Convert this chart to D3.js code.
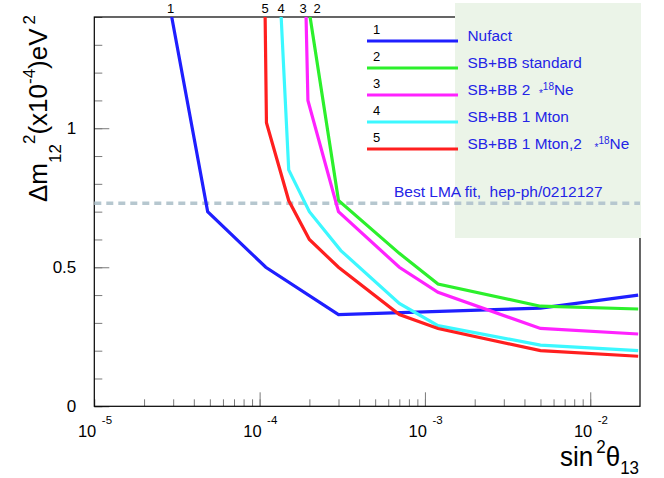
<!DOCTYPE html>
<html lang="en">

<head>
  <title></title>
  <meta charset="UTF-8">
  <script src="https://cdn.jsdelivr.net/npm/d3@7"></script>
  <style>
    body { margin: 0; background: #fff; }
    svg text { font-family: "Liberation Sans", Arial, Helvetica, sans-serif; white-space: pre; }
  </style>
</head>

<body>
  <svg id="chart" width="664" height="478"></svg>
  <script>
    // curves: x = sin^2(theta13), y = dm12^2 in 1e-4 eV^2
    var nufactX = [2.94e-5, 4.85e-5, 1.09e-4, 3e-4, 5e-3, 1.95e-2];
    var nufactY = [1.4, 0.7, 0.5, 0.33, 0.353, 0.40];
    var standardX = [2.02e-4, 3e-4, 7e-4, 1.2e-3, 5e-3, 1.95e-2];
    var standardY = [1.4, 0.74, 0.55, 0.44, 0.36, 0.35];
    var neX = [1.91e-4, 1.96e-4, 3e-4, 7e-4, 1.2e-3, 5e-3, 1.95e-2];
    var neY = [1.4, 1.1, 0.7, 0.5, 0.41, 0.28, 0.26];
    var mtonX = [1.35e-4, 1.5e-4, 2e-4, 3.1e-4, 7e-4, 1.2e-3, 5e-3, 1.95e-2];
    var mtonY = [1.4, 0.85, 0.7, 0.56, 0.37, 0.29, 0.22, 0.2];
    var mtonNeX = [1.08e-4, 1.1e-4, 1.5e-4, 2e-4, 3e-4, 7e-4, 1.2e-3, 5e-3, 1.95e-2];
    var mtonNeY = [1.4, 1.02, 0.74, 0.6, 0.5, 0.33, 0.28, 0.2, 0.18];

    var seriesIds = ["1", "2", "3", "4", "5"];
    var seriesNames = ["Nufact", "SB+BB standard", "SB+BB 2  ", "SB+BB 1 Mton", "SB+BB 1 Mton,2   "];
    var seriesIsotope = [false, false, true, false, true];
    var lmaFit = 0.73;
    var lmaText = "Best LMA fit,  hep-ph/0212127";
    var decadeTicks = [1e-5, 1e-4, 1e-3, 1e-2];
    var decadeExp = ["-5", "-4", "-3", "-2"];
    var yMajor = [0, 0.5, 1];

    var series = [
      { x: nufactX, y: nufactY, color: "#1f1fff" },
      { x: standardX, y: standardY, color: "#2cf02c" },
      { x: neX, y: neY, color: "#ff22ff" },
      { x: mtonX, y: mtonY, color: "#3cf8ff" },
      { x: mtonNeX, y: mtonNeY, color: "#ff1f1f" }
    ];
    series.forEach(function (s, i) {
      s.id = seriesIds[i];
      s.name = seriesNames[i];
      s.iso = seriesIsotope[i];
      s.points = s.x.map(function (v, j) { return [v, s.y[j]]; });
    });

    var L = 94.3, R = 640, T = 17, B = 406.3;
    var svg = d3.select("#chart");
    var x = d3.scaleLog().domain([1e-5, 2e-2]).range([L, R]);
    var y = d3.scaleLinear().domain([0, 1.4]).range([B, T]);

    svg.append("defs").append("clipPath").attr("id", "plot")
      .append("rect").attr("x", L).attr("y", T).attr("width", R - L).attr("height", B - T);

    // ticks (inside the frame, ROOT style)
    var xMinor = svg.append("g").attr("transform", "translate(0," + B + ")")
      .call(d3.axisBottom(x).tickValues(x.ticks().filter(function (v) { return v < 2e-2; }))
        .tickSize(-7).tickFormat(""));
    var xMajor = svg.append("g").attr("transform", "translate(0," + B + ")")
      .call(d3.axisBottom(x).tickValues(decadeTicks.slice(1)).tickSize(-14).tickFormat(""));
    var yMinorG = svg.append("g").attr("transform", "translate(" + L + ",0)")
      .call(d3.axisLeft(y).tickValues(d3.range(0, 15).map(function (i) { return i / 10; }))
        .tickSize(-8).tickFormat(""));
    var yMajorG = svg.append("g").attr("transform", "translate(" + L + ",0)")
      .call(d3.axisLeft(y).tickValues(yMajor).tickSize(-15).tickPadding(18)
        .tickFormat(function (d) { return d === 0.5 ? "0.5" : String(d); }));
    [xMinor, xMajor, yMinorG, yMajorG].forEach(function (g) {
      g.select(".domain").remove();
      g.selectAll(".tick line").attr("stroke", "#7a7a7a");
    });
    yMajorG.selectAll(".tick text").attr("font-size", 17).attr("fill", "#000")
      .attr("font-family", "Liberation Sans, Arial, sans-serif");

    // frame
    svg.append("rect").attr("x", L).attr("y", T).attr("width", R - L).attr("height", B - T)
      .attr("fill", "none").attr("stroke", "#000").attr("stroke-width", 1.2);

    // legend box
    svg.append("rect").attr("x", 455).attr("y", 3).attr("width", 186).attr("height", 235)
      .attr("fill", "#ebf4e8");

    // LMA best fit line
    svg.append("line").attr("x1", L).attr("x2", R).attr("y1", y(lmaFit)).attr("y2", y(lmaFit))
      .attr("stroke", "#b6c7cf").attr("stroke-width", 3.5).attr("stroke-dasharray", "7,5");
    svg.append("text").attr("x", 394).attr("y", 197).attr("font-size", 15.5)
      .attr("fill", "#2424e6").text(lmaText);

    // curves
    var line = d3.line().x(function (d) { return x(d[0]); }).y(function (d) { return y(d[1]); });
    svg.append("g").attr("clip-path", "url(#plot)")
      .selectAll("path").data(series).enter().append("path")
      .attr("d", function (s) { return line(s.points); })
      .attr("fill", "none").attr("stroke", function (s) { return s.color; })
      .attr("stroke-width", 3.2).attr("stroke-linejoin", "miter");

    // curve numbers at the top edge
    var topShift = { "1": -1, "3": -3, "2": 7 };
    svg.append("g").selectAll("text").data(series).enter().append("text")
      .attr("x", function (s) { return x(s.x[0]) + (topShift[s.id] || 0); })
      .attr("y", 13).attr("text-anchor", "middle").attr("font-size", 13)
      .text(function (s) { return s.id; });

    // legend entries
    var leg = svg.append("g").selectAll("g").data(series).enter().append("g")
      .attr("transform", function (s, i) { return "translate(0," + (41 + i * 27) + ")"; });
    leg.append("line").attr("x1", 367).attr("x2", 458).attr("y1", 0).attr("y2", 0)
      .attr("stroke", function (s) { return s.color; }).attr("stroke-width", 3.2);
    leg.append("text").attr("x", 373).attr("y", -7).attr("font-size", 13)
      .text(function (s) { return s.id; });
    var lt = leg.append("text").attr("x", 467.5).attr("y", 0).attr("font-size", 15.4)
      .attr("fill", "#2424e6");
    lt.append("tspan").text(function (s) { return s.name; });
    lt.filter(function (s) { return s.iso; }).each(function () {
      var t = d3.select(this);
      t.append("tspan").attr("font-size", 10).attr("dy", 2).text("*");
      t.append("tspan").attr("font-size", 10).attr("dy", -7).text("18");
      t.append("tspan").attr("font-size", 15.4).attr("dy", 5).text("Ne");
    });

    // x tick labels 10^n
    var xl = svg.append("g").selectAll("g").data(decadeTicks).enter().append("g");
    xl.append("text").attr("x", function (d) { return x(d) + 2; }).attr("y", 437)
      .attr("text-anchor", "end").attr("font-size", 16.5).text("10");
    xl.append("text").attr("x", function (d) { return x(d) + 7.5; }).attr("y", 424)
      .attr("font-size", 11.5).text(function (d, i) { return decadeExp[i]; });

    // axis titles
    var xt = svg.append("text").attr("transform", "translate(560,466) scale(1,1.08)")
      .attr("font-size", 26);
    xt.append("tspan").text("sin");
    xt.append("tspan").attr("font-size", 17).attr("dx", 3).attr("dy", -12).text("2");
    xt.append("tspan").attr("dy", 12).text("\u03b8");
    xt.append("tspan").attr("font-size", 17).attr("dy", 7).text("13");

    var yt = svg.append("text").attr("transform", "translate(47,202) rotate(-90)")
      .attr("font-size", 26);
    yt.append("tspan").text("\u0394m");
    yt.append("tspan").attr("font-size", 17).attr("dy", 14).text("12");
    yt.append("tspan").attr("font-size", 17).attr("dy", -26).text("2");
    yt.append("tspan").attr("dy", 12).text("(x10");
    yt.append("tspan").attr("font-size", 17).attr("dy", -12).text("-4");
    yt.append("tspan").attr("dy", 12).text(")eV");
    yt.append("tspan").attr("font-size", 17).attr("dx", 4).attr("dy", -12).text("2");
  </script>
</body>

</html>
